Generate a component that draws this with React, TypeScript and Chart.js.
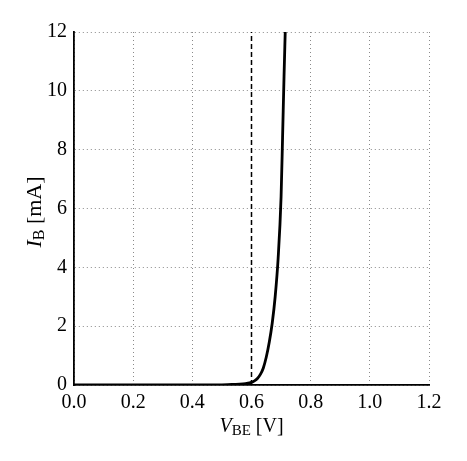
import React, { useEffect, useRef } from "react";
import { Chart, registerables } from "chart.js";

Chart.register(...registerables);

const vbe: number[] = [0.0, 0.1, 0.2, 0.3, 0.4, 0.45, 0.5, 0.52, 0.54, 0.56, 0.58, 0.6, 0.61, 0.62, 0.63, 0.64, 0.65, 0.66, 0.67, 0.68, 0.69, 0.7, 0.705, 0.71, 0.714];
const ib: number[] = [0, 0, 0, 0, 0.0005, 0.002, 0.005, 0.01, 0.02, 0.03, 0.05, 0.09, 0.14, 0.22, 0.36, 0.58, 0.95, 1.45, 2.1, 3.0, 4.3, 6.4, 8.4, 10.5, 12.0];
const thresholdV: number[] = [0.6, 0.6];
const thresholdI: number[] = [0, 12];
const xTicks: number[] = [0, 0.2, 0.4, 0.6, 0.8, 1.0, 1.2];
const yTicks: number[] = [0, 2, 4, 6, 8, 10, 12];

const FONT = "'Liberation Serif', 'Times New Roman', serif";

const titlePlugin = {
  id: "axisTitles",
  afterDraw(chart: any) {
    const ctx = chart.ctx;
    const area = chart.chartArea;
    ctx.save();
    ctx.fillStyle = "#000";
    ctx.textBaseline = "alphabetic";
    ctx.textAlign = "left";
    // x title: V_BE [V]
    const big = `20px ${FONT}`;
    const bigI = `italic 20px ${FONT}`;
    const small = `15px ${FONT}`;
    ctx.font = bigI;
    const wV = ctx.measureText("V").width;
    ctx.font = small;
    const wBE = ctx.measureText("BE").width;
    ctx.font = big;
    const wU = ctx.measureText(" [V]").width;
    const total = wV + wBE + wU;
    let x = (area.left + area.right) / 2 - total / 2;
    const base = 432;
    ctx.font = bigI;
    ctx.fillText("V", x, base);
    x += wV;
    ctx.font = small;
    ctx.fillText("BE", x, base + 3);
    x += wBE;
    ctx.font = big;
    ctx.fillText(" [V]", x, base);

    // y title: I_B [mA]
    const bigY = `22px ${FONT}`;
    const bigYI = `italic 22px ${FONT}`;
    const smallY = `16px ${FONT}`;
    ctx.save();
    ctx.translate(41, 212);
    ctx.rotate(-Math.PI / 2);
    ctx.font = bigYI;
    const wI = ctx.measureText("I").width;
    ctx.font = smallY;
    const wB = ctx.measureText("B").width;
    ctx.font = bigY;
    const wmA = ctx.measureText(" [mA]").width;
    const tot2 = wI + wB + wmA;
    let y = -tot2 / 2;
    ctx.font = bigYI;
    ctx.fillText("I", y, 0);
    y += wI;
    ctx.font = smallY;
    ctx.fillText("B", y, 3);
    y += wB;
    ctx.font = bigY;
    ctx.fillText(" [mA]", y, 0);
    ctx.restore();
    ctx.restore();
  },
};

export default function App() {
  const ref = useRef<HTMLCanvasElement | null>(null);
  useEffect(() => {
    if (!ref.current) return;
    const curve = vbe.map((v, i) => ({ x: v, y: ib[i] }));
    const thr = thresholdV.map((v, i) => ({ x: v, y: thresholdI[i] }));
    const chart = new Chart(ref.current, {
      type: "line",
      data: {
        datasets: [
          {
            data: thr,
            borderColor: "#000",
            borderWidth: 1.5,
            borderDash: [5, 3],
            pointRadius: 0,
            fill: false,
          },
          {
            data: curve,
            borderColor: "#000",
            borderWidth: 2.8,
            pointRadius: 0,
            cubicInterpolationMode: "monotone",
            fill: false,
          },
        ],
      },
      options: {
        animation: false,
        responsive: false,
        maintainAspectRatio: false,
        layout: { padding: { top: 32, right: 38, left: 0, bottom: 0 } },
        plugins: {
          legend: { display: false },
          tooltip: { enabled: false },
        },
        scales: {
          x: {
            type: "linear",
            min: 0,
            max: 1.2,
            afterBuildTicks: (s: any) => {
              s.ticks = xTicks.map((v) => ({ value: v }));
            },
            afterFit: (s: any) => {
              s.height = 76;
            },
            ticks: {
              color: "#000",
              font: { family: FONT, size: 20 },
              padding: 6,
              callback: (v: any) => Number(v).toFixed(1),
              maxRotation: 0,
            },
            grid: {
              color: "#8a8a8a",
              lineWidth: 1,
              drawTicks: false,
            },
            border: { display: true, color: "#000", width: 1.8, dash: [1, 3] },
          },
          y: {
            type: "linear",
            min: 0,
            max: 12,
            afterBuildTicks: (s: any) => {
              s.ticks = yTicks.map((v) => ({ value: v }));
            },
            afterFit: (s: any) => {
              s.width = 74;
            },
            ticks: {
              color: "#000",
              font: { family: FONT, size: 20 },
              padding: 7,
              callback: (v: any) => String(v),
            },
            grid: {
              color: "#8a8a8a",
              lineWidth: 1,
              drawTicks: false,
            },
            border: { display: true, color: "#000", width: 1.8, dash: [1, 3] },
          },
        },
      },
      plugins: [titlePlugin],
    } as any);
    return () => chart.destroy();
  }, []);
  return (
    <div style={{ position: "fixed", left: 0, top: 0, width: 467, height: 461, background: "#fff" }}>
      <canvas ref={ref} width={467} height={461} style={{ width: 467, height: 461, display: "block" }} />
    </div>
  );
}
